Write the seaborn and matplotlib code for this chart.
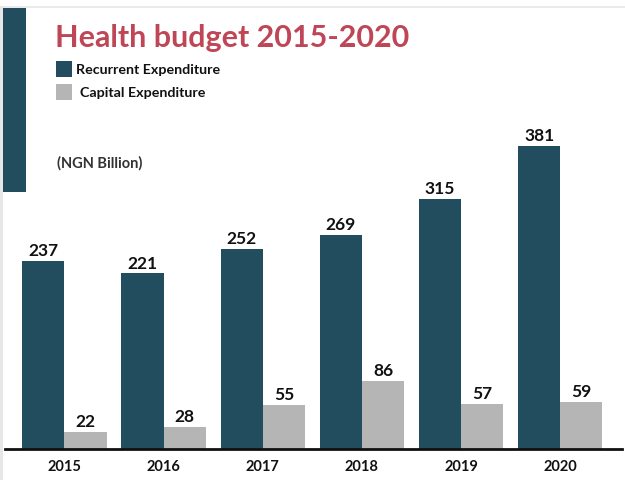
import matplotlib
matplotlib.use("Agg")
import matplotlib.pyplot as plt
from matplotlib.patches import Rectangle
from matplotlib.lines import Line2D
import seaborn as sns
import pandas as pd

# Health budget figures, NGN billion
years = ["2015", "2016", "2017", "2018", "2019", "2020"]
recurrent = [237, 221, 252, 269, 315, 381]
capital = [22, 28, 55, 86, 57, 59]
series = ["Recurrent Expenditure", "Capital Expenditure"]

DARK = "#214d5f"
GREY = "#b4b5b4"
TITLE_RED = "#bf4656"

df = pd.DataFrame({
    "year": years * 2,
    "type": [series[0]] * len(years) + [series[1]] * len(years),
    "value": recurrent + capital,
})

sns.set_theme(style="white")
plt.rcParams["font.family"] = ["Lato", "DejaVu Sans"]

W, H = 625, 481
fig = plt.figure(figsize=(W / 100, H / 100), dpi=100)
fig.patch.set_facecolor("white")


def fx(px):
    return px / W


def fy(py):
    return 1 - py / H


ax = fig.add_axes([fx(5), fy(450), fx(622) - fx(5), fy(8) - fy(450)])
sns.barplot(data=df, x="year", y="value", hue="type", hue_order=series,
            palette=[DARK, GREY], width=0.85, gap=0, saturation=1,
            linewidth=0, legend=False, ax=ax)

for cont in ax.containers:
    ax.bar_label(cont, labels=[f"{v:.0f}" for v in cont.datavalues],
                 padding=2, fontsize=12.5, fontweight="bold", color="#111111")

ax.set_xlim(-0.600, 5.623)
ax.set_ylim(0, 556)
ax.set_xlabel("")
ax.set_ylabel("")
ax.set_yticks([])
for s in ["top", "right", "left"]:
    ax.spines[s].set_visible(False)
ax.spines["bottom"].set_color("#111111")
ax.spines["bottom"].set_linewidth(2)
ax.tick_params(axis="x", length=0, pad=7, labelsize=10.5, labelcolor="#111111")
for t in ax.get_xticklabels():
    t.set_fontweight("bold")
ax.patch.set_alpha(0)

# frame edges and side band
fig.add_artist(Line2D([0, 1], [fy(7.5), fy(7.5)], color="#e6e6e6", lw=1.2))
fig.add_artist(Line2D([fx(1.2), fx(1.2)], [0, fy(7.5)], color="#e6e6e6", lw=2))
fig.add_artist(Rectangle((fx(3), fy(193)), fx(26) - fx(3), fy(9) - fy(193),
                         transform=fig.transFigure, color=DARK, lw=0))

# title
fig.text(fx(55), fy(47), "Health budget 2015-2020", color=TITLE_RED,
         fontsize=22, fontweight="bold", ha="left", va="baseline")

# legend
for i, (name, col) in enumerate(zip(series, [DARK, GREY])):
    top = 62 + i * 23
    fig.add_artist(Rectangle((fx(56), fy(top + 16)), fx(16), fy(top) - fy(top + 16),
                             transform=fig.transFigure, color=col, lw=0))
    fig.text(fx(76 + 4 * i), fy(top + 8), name, fontsize=10.3, fontweight="bold",
             color="#111111", ha="left", va="center")

fig.text(fx(57), fy(163), "(NGN Billion)", fontsize=10.5, fontweight="bold",
         color="#333333", ha="left", va="center")

fig.savefig("out.png", dpi=100, facecolor="white")
